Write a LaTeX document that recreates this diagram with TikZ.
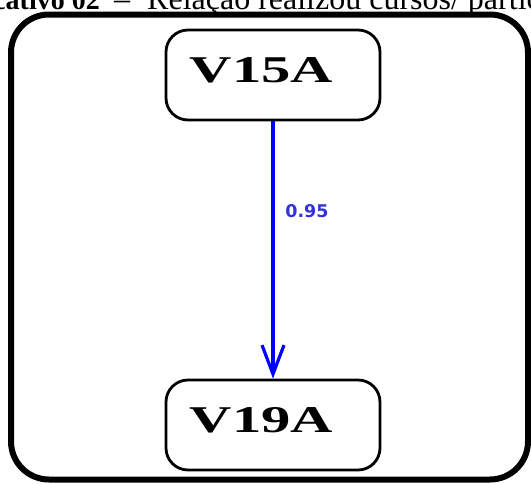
\documentclass[tikz,border=0pt]{standalone}
\usepackage{fontspec}
\setmainfont{Liberation Serif}
\newfontfamily\labelsans{DejaVu Sans}
\usetikzlibrary{arrows.meta}
\definecolor{edgeblue}{RGB}{0,0,255}
\definecolor{weightblue}{RGB}{50,50,220}
\tikzset{
  varbox/.style={draw=black, line width=2.8pt, rounded corners=22pt,
    minimum width=214pt, minimum height=90pt, inner sep=0pt},
  vartext/.style={inner sep=0pt, font=\fontsize{37.8}{40}\selectfont\bfseries},
  heading/.style={inner sep=0pt, font=\fontsize{32}{34}\selectfont},
  edge/.style={draw=edgeblue, line width=3.2pt,
    -{Straight Barb[length=29pt,width=22pt,line width=3.2pt]}},
  weight/.style={inner sep=0pt, text=weightblue,
    font=\labelsans\fontsize{17.5}{19}\selectfont\bfseries},
}
\begin{document}
\begin{tikzpicture}[x=1pt,y=-1pt]
  \useasboundingbox (0,0) rectangle (531,483);
  \clip (0,0) rectangle (531,483);

  % caption line above the frame
  \node[heading, anchor=base east, font=\fontsize{28}{30}\selectfont\bfseries]
    (capA) at (100,9.5) {cativo 02};
  \node[heading, anchor=base] (capB) at (122,9.5) {–};
  \node[heading, anchor=base west] (capC) at (147,9.5) {Relação realizou cursos/ partic};

  % outer frame
  \draw[line width=6pt, rounded corners=38pt] (11,14.5) rectangle (528,479.5);

  % variables
  \node[varbox] (v15) at (273,75) {};
  \node[vartext] (v15t) at (261.5,70.5) {\scalebox{1.55}[1]{V15A}};
  \node[varbox] (v19) at (273,425) {};
  \node[vartext] (v19t) at (261.5,420.5) {\scalebox{1.55}[1]{V19A}};

  % relation
  \draw[edge] (v15.south) -- (v19.north);
  \node[weight] (w) at (307,211) {0.95};
\end{tikzpicture}
\end{document}
